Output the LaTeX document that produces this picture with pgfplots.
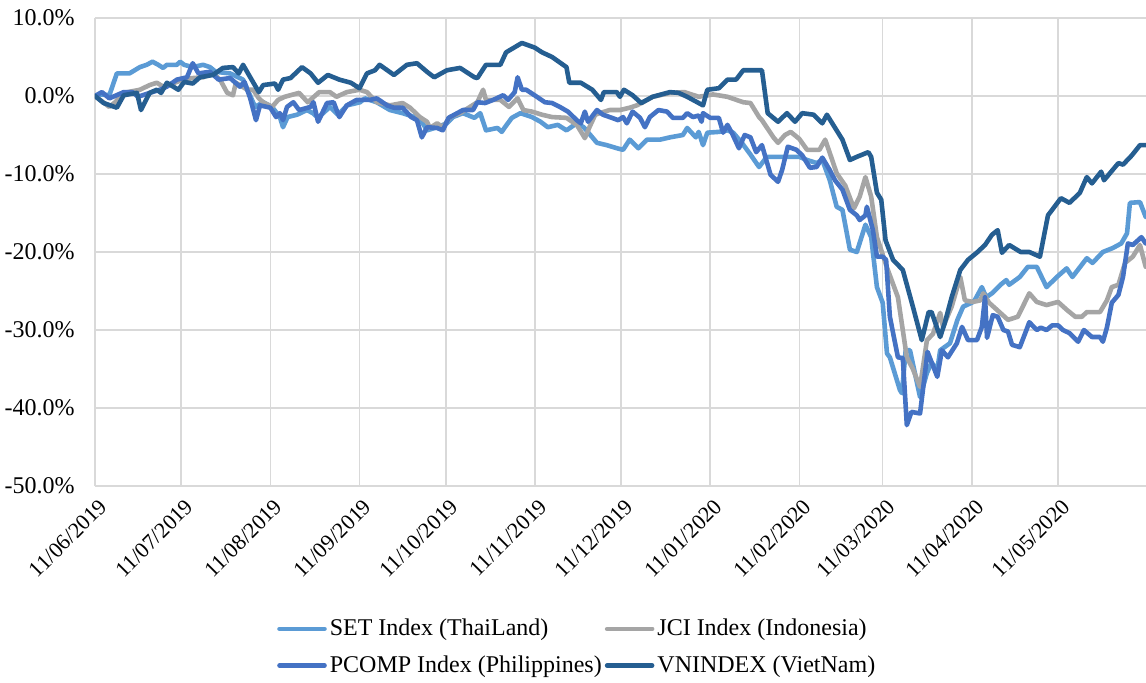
\documentclass[border=0pt]{standalone}
\usepackage{pgfplots}
\pgfplotsset{compat=1.18}
\usepackage{fontspec}
\setmainfont{Liberation Serif}
\definecolor{cSET}{HTML}{5B9BD5}
\definecolor{cJCI}{HTML}{A5A5A5}
\definecolor{cPCOMP}{HTML}{4472C4}
\definecolor{cVN}{HTML}{255E91}
\definecolor{gridc}{HTML}{D9D9D9}
\begin{document}
\begin{tikzpicture}
\useasboundingbox (-47.5pt,-98pt) rectangle (525.5pt,243pt);
\begin{axis}[
  at={(0pt,0pt)}, anchor=south west,
  scale only axis, width=525.5pt, height=234pt,
  xmin=0, xmax=365.6, ymin=-50, ymax=10,
  xtick={0,30,61,92,122,153,183,214,245,274,305,335},
  xticklabels={11/06/2019,11/07/2019,11/08/2019,11/09/2019,11/10/2019,11/11/2019,11/12/2019,11/01/2020,11/02/2020,11/03/2020,11/04/2020,11/05/2020},
  ytick={-50,-40,-30,-20,-10,0,10},
  yticklabel={\pgfmathprintnumber[fixed,fixed zerofill,precision=1]{\tick}\%},
  /pgf/number format/assume math mode=true,
  yticklabel style={font=\fontsize{12}{14}\selectfont, anchor=east, inner sep=0pt, xshift=-10pt},
  xticklabel style={font=\fontsize{11}{13}\selectfont, rotate=45, anchor=north east, inner sep=0pt, xshift=-3pt, yshift=-5pt},
  major tick length=0pt,
  axis line style={draw=none},
  grid=major,
  major grid style={draw=gridc, line width=0.8pt},
  clip=true,
  every axis plot/.append style={line width=2.3pt, line join=round, line cap=round},
  legend columns=2,
  legend cell align=left,
  legend style={at={(0.173,-0.277)}, anchor=north west, draw=none, fill=none, inner sep=0pt,
    font=\fontsize{12}{14}\selectfont, nodes={inner sep=1.5pt}, row sep=5.5pt,
    /tikz/every odd column/.append style={column sep=0pt}},
  legend image code/.code={\draw[#1] (0pt,0pt) -- (22.5pt,0pt);},
]
\addplot[cSET] coordinates {
(0,0) (2,0.2) (5,0.1) (7.6,2.9) (12,2.9) (15.6,3.7) (18,4.0) (20,4.4) (22,4.0) (23.7,3.6) (25,4.0) (28.5,4.0) (29.6,4.4) (31,4.0) (34,3.7) (37.6,4.0) (40,3.7) (42,3.1) (47,2.9) (51.5,2.1) (55.7,-1.4) (58.5,-0.8) (61.6,-1.4) (64.3,-2.7) (65.4,-4.0) (67,-2.7) (70.3,-2.4) (73.7,-1.8) (75.8,-2.2) (77.6,-2.8) (81.7,-1.4) (84.5,-2.4) (87.7,-1.2) (92.2,-0.8) (93.9,-0.3) (98,-0.8) (102.6,-1.8) (107,-2.2) (112,-2.8) (114,-3.5) (115.5,-4.4) (119,-4.0) (122.4,-3.5) (124.5,-2.7) (128,-2.2) (132,-2.8) (134,-2.2) (136,-4.4) (140,-4.1) (141.5,-4.6) (142.6,-4.0) (145,-2.8) (148,-2.2) (152,-2.7) (155,-3.3) (157.5,-4.0) (161,-3.7) (164,-4.4) (167.6,-3.5) (170,-4.0) (173,-5.3) (174.6,-6.0) (178,-6.3) (181.6,-6.7) (183.7,-6.9) (186,-5.6) (189,-6.7) (192,-5.6) (196.5,-5.6) (200,-5.3) (204.5,-5.0) (206,-4.1) (209,-5.3) (210,-4.6) (211.5,-6.3) (213,-4.7) (217,-4.6) (220,-4.4) (222,-4.7) (225,-6.0) (228,-7.5) (231,-9.1) (233.7,-7.8) (238,-7.8) (245,-7.8) (247.7,-8.2) (251,-8.6) (253,-8.2) (255.6,-10.8) (258,-14.2) (260,-14.6) (262.6,-19.7) (265,-20.0) (268,-16.5) (270,-18.1) (272,-24.5) (274,-26.5) (275.5,-33.0) (276.5,-33.5) (280,-37.7) (280.7,-38.1) (282,-32.6) (283.5,-32.6) (287,-38.6) (289.4,-35.5) (291,-34.2) (293,-35.1) (294,-32.6) (297.4,-31.7) (300,-28.7) (302,-27.0) (305,-26.5) (306,-26.2) (308.5,-24.5) (310,-25.8) (312,-25.3) (315,-24.2) (317,-23.6) (318,-24.2) (321.7,-23.2) (324.5,-21.9) (327.6,-21.9) (331,-24.5) (334.6,-23.2) (338,-22.1) (340,-23.2) (345,-20.8) (347,-21.4) (350.6,-20.0) (354,-19.5) (357,-18.9) (359,-17.6) (360,-13.7) (363.5,-13.6) (365.5,-15.5)
};
\addlegendentry{SET Index (ThaiLand)}
\addplot[cJCI] coordinates {
(0,0) (5,-1.4) (7,-0.8) (10,0.4) (15.6,0.8) (19,1.4) (21.5,1.7) (23.7,1.2) (28.5,1.8) (30.6,2.1) (34,2.3) (37.6,2.4) (41,2.9) (43.5,2.1) (46,0.4) (48,0.1) (49,1.7) (53,0.8) (55,0.8) (57,-0.3) (58.5,-0.8) (61.6,-1.4) (63.7,-0.5) (66,-0.1) (68,0.1) (71,0.4) (74,-0.8) (78,0.5) (81.7,0.5) (84,-0.1) (87.6,0.5) (92,0.8) (94.6,0.5) (98,-0.8) (102.6,-1.2) (107,-0.9) (109.6,-1.5) (113,-2.7) (115.5,-3.3) (116.5,-4.1) (119,-3.5) (121,-4.0) (123.5,-2.7) (127,-2.2) (130,-1.5) (133,-0.8) (135,0.8) (136,-0.5) (141,-0.5) (144,-1.4) (147,-0.3) (149,-1.8) (152,-2.0) (155.5,-2.4) (159,-2.7) (164,-2.8) (167.6,-3.7) (170.4,-5.4) (172,-4.0) (174,-2.4) (175.6,-2.2) (179,-1.8) (182.6,-1.8) (186,-1.5) (188.5,-1.2) (190.6,-0.8) (194,-0.1) (196.5,0.1) (200,0.4) (205,0.5) (210,-0.1) (215,0.2) (220,-0.1) (225.5,-0.8) (228,-0.9) (231,-2.7) (232,-3.1) (236,-5.3) (237.6,-6.0) (240,-5.0) (242,-4.6) (245,-5.5) (247.7,-6.9) (252,-6.9) (254,-5.6) (255.6,-7.3) (258,-9.9) (261,-11.5) (264,-14.4) (266,-12.9) (268,-10.4) (270,-12.9) (272,-18.1) (275.5,-22.0) (279.3,-25.8) (282.4,-33.5) (284.5,-35.0) (287,-37.3) (289.4,-31.3) (291.5,-30.5) (294,-27.8) (295,-29.6) (298,-27.0) (301,-23.2) (302.6,-26.2) (305.4,-26.4) (308,-26.2) (309,-25.3) (311,-26.5) (313.7,-27.4) (317.6,-28.7) (321,-28.3) (325,-25.3) (327.6,-26.4) (331,-26.8) (335,-26.4) (338,-27.4) (341,-28.3) (343.3,-28.3) (345,-27.7) (349.6,-27.7) (352,-26.2) (353.7,-24.5) (356,-24.2) (358.3,-21.4) (361,-20.6) (363.5,-19.1) (365.5,-21.9)
};
\addlegendentry{JCI Index (Indonesia)}
\addplot[cPCOMP] coordinates {
(0,0) (2.4,0.5) (5,-0.3) (10,0.5) (13,0.5) (15,-0.1) (19,0.4) (22.6,0.8) (25,1.2) (28.5,2.1) (32,2.4) (34,4.2) (36,2.9) (40,3.1) (43,2.1) (47,2.3) (50.4,1.2) (52,1.8) (54,-0.3) (56,-3.1) (57.4,-1.2) (61,-1.5) (63,-2.7) (64.3,-2.2) (65.4,-3.1) (66.8,-1.4) (69,-0.8) (71,-1.8) (75,-1.4) (76,-0.8) (77.6,-3.3) (80.7,-0.9) (83,-0.8) (85,-2.7) (87.6,-1.2) (91,-0.5) (95.7,-0.5) (98,-0.3) (101.6,-1.2) (104,-1.5) (107,-1.5) (110,-2.7) (112,-3.1) (113.7,-5.3) (115.5,-4.0) (119,-4.1) (121,-4.4) (123,-2.8) (126,-2.2) (128,-1.8) (131.5,-1.8) (133,-0.8) (135.7,-0.9) (138.5,-0.5) (142,0.1) (143.7,-0.5) (146,0.5) (147,2.4) (148.5,0.8) (150,0.8) (153.7,-0.1) (156.5,-0.8) (159,-0.9) (161.7,-1.4) (164.5,-2.0) (167.6,-3.1) (169,-3.5) (170.4,-2.0) (171.5,-3.3) (174.6,-1.8) (176.7,-2.4) (179.8,-2.8) (182,-3.1) (183.7,-2.7) (185,-3.5) (187,-2.0) (189.6,-2.8) (191.3,-4.0) (193,-2.7) (196,-1.8) (199,-2.0) (201,-2.8) (204.5,-2.8) (206,-2.2) (208,-2.7) (210,-2.5) (211,-3.3) (211.5,-2.2) (214,-2.8) (217,-2.8) (218.5,-4.7) (220,-3.7) (221.5,-4.7) (224,-6.7) (226,-5.0) (228,-5.3) (230,-7.2) (232,-6.3) (235,-10.1) (237.6,-11.0) (239,-9.5) (241,-6.5) (244,-6.9) (246,-7.6) (248.7,-9.2) (251,-9.1) (253,-7.9) (255.6,-9.5) (257.4,-10.8) (260,-12.0) (262.6,-14.6) (265,-15.3) (266,-15.9) (268,-15.3) (268.5,-14.2) (270.6,-17.2) (272,-20.6) (274,-20.6) (275.2,-21.0) (276.5,-28.3) (279.3,-33.5) (281,-33.6) (282.4,-42.2) (284,-40.5) (287,-40.7) (289.6,-32.8) (293,-36.0) (294.6,-32.6) (296.7,-33.5) (299.8,-31.7) (301.6,-29.6) (303.7,-31.3) (306.8,-31.3) (308.5,-29.6) (309.6,-25.8) (310.3,-31.0) (312.3,-28.1) (314,-28.3) (316,-30.0) (317.6,-30.2) (319,-31.9) (321.7,-32.2) (324,-30.0) (325,-29.0) (327.6,-30.0) (329,-29.7) (331,-30.0) (333,-29.4) (335,-29.4) (336.7,-30.0) (339,-30.4) (342,-31.5) (344,-30.0) (346.8,-30.9) (349.6,-30.9) (350.6,-31.5) (352,-29.7) (353.7,-26.5) (356,-25.5) (357.6,-23.2) (359.3,-18.9) (361,-19.1) (364,-18.1) (365.5,-18.9)
};
\addlegendentry{PCOMP Index (Philippines)}
\addplot[cVN] coordinates {
(0,0) (3,-0.9) (7.6,-1.5) (10,0.1) (14.6,0.4) (16,-1.8) (19,0.4) (21.5,0.8) (23,0.4) (25,1.7) (29,0.8) (31,1.8) (34,1.6) (36.5,2.4) (41,2.7) (44.5,3.6) (48,3.7) (50,2.9) (51.5,4.0) (54,2.4) (57,0.5) (58.5,1.4) (62.6,1.6) (63.7,0.8) (65.4,2.1) (68,2.3) (72,3.7) (75,2.9) (77.6,1.7) (81,2.7) (85,2.1) (89,1.7) (92,1.0) (94.6,2.9) (97.4,3.3) (99,4.0) (104,2.7) (108.5,4.0) (112,4.2) (115.5,3.1) (118,2.4) (122.4,3.3) (127,3.6) (132,2.4) (133,2.3) (136,4.0) (141,4.0) (143,5.6) (148.5,6.8) (153,6.2) (155.5,5.6) (159,5.0) (164,3.7) (165,1.7) (169,1.7) (173,0.8) (176,-0.5) (177,0.5) (181.5,0.5) (182.6,-0.1) (184,0.8) (187,0.1) (190,-0.9) (194,-0.1) (200,0.5) (203,0.4) (206,-0.1) (211.5,-1.2) (213,0.8) (217,1.0) (220,2.1) (223,2.1) (225.5,3.3) (232,3.3) (234,-2.2) (237.6,-3.3) (240.7,-2.2) (243.5,-3.3) (246,-2.2) (250,-2.4) (253,-3.5) (254.6,-2.4) (260,-5.6) (262.6,-8.2) (265,-7.8) (269,-7.2) (270,-7.8) (272,-12.4) (273.5,-13.3) (275,-18.5) (277.6,-21.0) (281,-22.3) (284.5,-27.0) (287.6,-31.3) (290,-27.7) (291,-27.7) (294,-30.9) (295.6,-29.1) (298,-25.8) (301,-22.3) (303.7,-21.0) (306.7,-20.1) (309.6,-19.1) (312,-17.8) (314,-17.2) (315.5,-20.1) (318,-19.1) (322,-20.0) (325,-20.0) (328.7,-20.6) (331.5,-15.3) (336,-13.1) (339,-13.7) (342.6,-12.4) (345,-10.4) (346.8,-11.2) (350,-9.7) (351,-10.8) (356,-8.6) (357.6,-8.8) (360.7,-7.6) (363.5,-6.3) (365.5,-6.3)
};
\addlegendentry{VNINDEX (VietNam)}
\end{axis}
\end{tikzpicture}
\end{document}
